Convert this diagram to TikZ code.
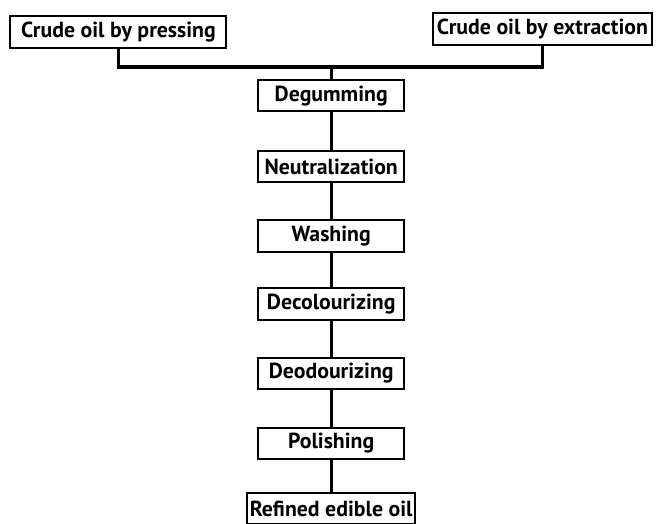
\documentclass[tikz,border=0pt]{standalone}
\usepackage{fontspec}
\setmainfont{PT Sans}
\usetikzlibrary{positioning,calc}

\begin{document}
\begin{tikzpicture}[
  font=\bfseries\fontsize{15.5}{17}\selectfont,
  stage/.style={
    draw=black,
    line width=1.4pt,
    fill=white,
    minimum width=3.65cm,
    minimum height=0.78cm,
    inner xsep=2pt,
    inner ysep=2pt,
    align=center
  },
  source/.style={stage, minimum width=0cm, minimum height=0.8cm, inner xsep=3pt},
  link/.style={line width=2.2pt, draw=black}
]

\path[use as bounding box] (0,0) rectangle (16.475,-13.1);

\node[source, minimum width=5.4cm] (press) at (2.96,-0.79) {Crude oil by pressing};
\node[source] (extract) at (13.56,-0.73) {Crude oil by extraction};
\coordinate (join) at (8.28,-1.675);

\node[stage] (degum) at (8.28,-2.39) {Degumming};
\node[stage] (neutral) at (8.28,-4.17) {Neutralization};
\node[stage] (wash) at (8.28,-5.90) {Washing};
\node[stage] (decolour) at (8.28,-7.60) {Decolourizing};
\node[stage] (deodour) at (8.28,-9.33) {Deodourizing};
\node[stage] (polish) at (8.28,-11.08) {Polishing};
\node[stage, minimum width=4.2cm] (refined) at (8.28,-12.72) {Refined edible oil};

\draw[link] (press.south) |- (join) -| (extract.south);
\draw[link] (join) -- (degum.north);
\draw[link] (degum) -- (neutral);
\draw[link] (neutral) -- (wash);
\draw[link] (wash) -- (decolour);
\draw[link] (decolour) -- (deodour);
\draw[link] (deodour) -- (polish);
\draw[link] (polish) -- (refined);

\end{tikzpicture}
\end{document}
